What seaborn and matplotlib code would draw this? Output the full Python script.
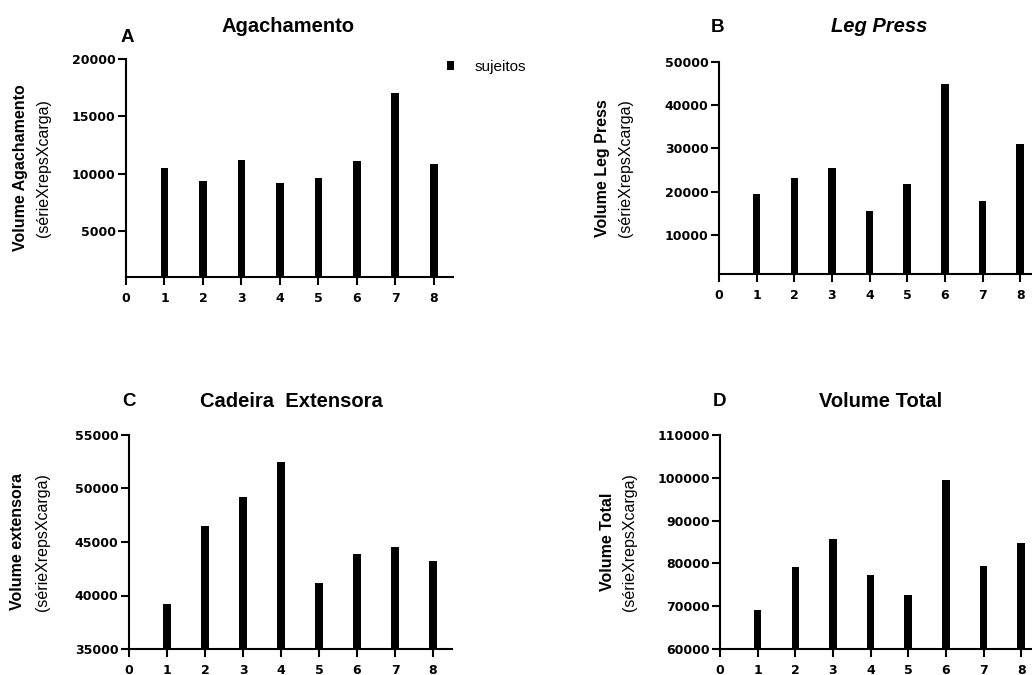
#! /usr/bin/env python3
'''
Volume de treino por sujeito: agachamento, leg press, cadeira extensora e total
'''
# imports
from matplotlib import rcParams
from matplotlib.patches import Patch
import matplotlib.pyplot as plt
import seaborn as sns

# data
sujeitos = [1, 2, 3, 4, 5, 6, 7, 8]
agachamento = [10460, 9360, 11190, 9210, 9590, 11100, 17040, 10810]
leg_press = [19600, 23080, 25460, 15620, 21770, 44770, 17920, 30920]
extensora = [39220, 46470, 49160, 52470, 41190, 43840, 44530, 43190]
volume_total = [69220, 79190, 85810, 77320, 72570, 99600, 79350, 84720]

# settings
sns.set_style("ticks")
rcParams['font.family'] = ['Liberation Sans', 'DejaVu Sans']
rcParams['text.color'] = 'black'
W, H = 1032, 675
fig = plt.figure(figsize=(W / 100, H / 100), dpi=100)


def px(x, y):
    return x / W, 1 - y / H


# (vals, ylim, yticks, rect in px: left, top, right, bottom, letter, title, italic, ylabel)
panels = [
    (agachamento, (1000, 20000), [5000, 10000, 15000, 20000],
     (126, 59, 453, 277), 'A', 'Agachamento', False, 'Volume Agachamento',
     (127, 37), (288, 26), (21, 44)),
    (leg_press, (1000, 50000), [10000, 20000, 30000, 40000, 50000],
     (719, 61.7, 1039, 274.3), 'B', 'Leg Press', True, 'Volume Leg Press',
     (718, 27), (879, 27), (603, 626)),
    (extensora, (35000, 55000), [35000, 40000, 45000, 50000, 55000],
     (129, 435, 452, 649), 'C', 'Cadeira  Extensora', False, 'Volume extensora',
     (129, 402), (291, 402), (18, 43)),
    (volume_total, (60000, 110000), [60000, 70000, 80000, 90000, 100000, 110000],
     (720, 435, 1040, 649), 'D', 'Volume Total', False, 'Volume Total',
     (719, 402), (881, 402), (608, 630)),
]

for vals, ylim, yticks, rect, letter, title, italic, ylab, lpos, tpos, ylx in panels:
    l, t, r, b = rect
    ax = fig.add_axes([l / W, 1 - b / H, (r - l) / W, (b - t) / H])
    sns.barplot(x=sujeitos, y=vals, native_scale=True, width=0.2,
                color='black', saturation=1, edgecolor='none', ax=ax)
    ax.set_xlim(0, 8.5)
    ax.set_ylim(*ylim)
    ax.set_xticks(range(9))
    ax.set_xticklabels([str(i) for i in range(9)])
    ax.set_yticks(yticks)
    ax.set_yticklabels([str(v) for v in yticks])
    sns.despine(ax=ax)
    for s in ['left', 'bottom']:
        ax.spines[s].set_linewidth(1.5)
        ax.spines[s].set_color('black')
    ax.tick_params(axis='both', length=5.5, width=1.5, colors='black')
    ax.tick_params(axis='y', pad=2)
    ax.tick_params(axis='x', pad=5)
    for lab in ax.get_xticklabels() + ax.get_yticklabels():
        lab.set_family('DejaVu Sans')
        lab.set_fontweight('bold')
        lab.set_fontsize(9)
    ax.set_xlabel('')
    ax.set_ylabel('')

    # panel letter and title
    fig.text(*px(*lpos), letter, ha='center', va='center',
             fontsize=13.5, fontweight='bold', color='black')
    fig.text(*px(*tpos), title, ha='center', va='center', fontsize=14.5,
             fontweight='bold', style='italic' if italic else 'normal',
             color='black')

    # two-line y label
    yc = (t + b) / 2
    fig.text(*px(ylx[0], yc), ylab, rotation=90, ha='center', va='center',
             fontsize=11.5, fontweight='bold', color='black')
    fig.text(*px(ylx[1], yc), '(sérieXrepsXcarga)', rotation=90,
             ha='center', va='center', fontsize=11.5, color='black')

# legend
fig.legend(handles=[Patch(facecolor='black', edgecolor='none', label='sujeitos')],
           loc='center left', bbox_to_anchor=px(447, 67), frameon=False,
           fontsize=11, handlelength=0.45, handleheight=0.6,
           handletextpad=1.35, borderpad=0, borderaxespad=0, labelcolor='black')

fig.savefig('out.png', dpi=100)
plt.close()
